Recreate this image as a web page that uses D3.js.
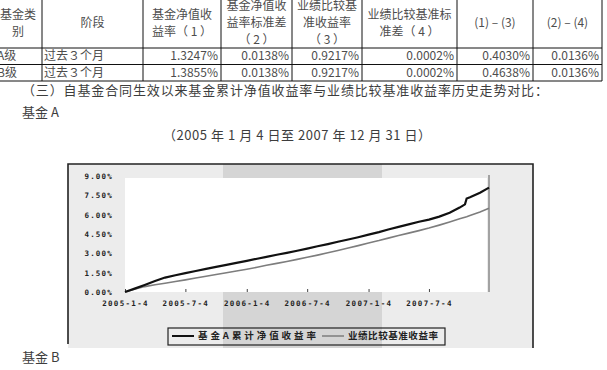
<!DOCTYPE html>
<html>
<head>
<meta charset="utf-8">
<script src="https://cdn.jsdelivr.net/npm/d3@7"></script>
<style>
  body { margin: 0; background: #fff; }
  svg { display: block; font-family: "Noto Sans CJK SC", "Noto Sans", sans-serif; }
</style>
</head>
<body>
<svg id="chart" width="607" height="370"></svg>
<script>
// table
const headers = [["基金类", "别"], ["阶段"], ["基金净值收", "益率（ 1 ）"], ["基金净值收", "益率标准差", "（ 2 ）"],
  ["业绩比较基", "准收益率", "（ 3 ）"], ["业绩比较基准标", "准差（ 4 ）"], ["(1) – (3)"], ["(2) – (4)"]]
const fundClass = ["A级", "B级"]
const period = ["过去３个月", "过去３个月"]
const navReturn = ["1.3247%", "1.3855%"]
const navStd = ["0.0138%", "0.0138%"]
const benchReturn = ["0.9217%", "0.9217%"]
const benchStd = ["0.0002%", "0.0002%"]
const diffReturn = ["0.4030%", "0.4638%"]
const diffStd = ["0.0136%", "0.0136%"]

// chart
const dates = ["2005-01-04", "2005-02-04", "2005-03-04", "2005-04-04", "2005-05-04", "2005-06-04",
  "2005-07-04", "2005-08-04", "2005-09-04", "2005-10-04", "2005-11-04", "2005-12-04",
  "2006-01-04", "2006-02-04", "2006-03-04", "2006-04-04", "2006-05-04", "2006-06-04",
  "2006-07-04", "2006-08-04", "2006-09-04", "2006-10-04", "2006-11-04", "2006-12-04",
  "2007-01-04", "2007-02-04", "2007-03-04", "2007-04-04", "2007-05-04", "2007-06-04",
  "2007-07-04", "2007-08-04", "2007-09-04", "2007-10-04", "2007-10-20", "2007-10-25",
  "2007-11-04", "2007-12-04", "2007-12-31"]
const fundA = [0.00, 0.28, 0.55, 0.85, 1.12, 1.30, 1.47, 1.63, 1.79, 1.95, 2.10, 2.26,
  2.42, 2.58, 2.73, 2.89, 3.04, 3.20, 3.37, 3.55, 3.72, 3.90, 4.07, 4.25,
  4.45, 4.65, 4.85, 5.05, 5.25, 5.45, 5.62, 5.85, 6.15, 6.55, 6.80, 7.25,
  7.35, 7.70, 8.10]
const benchmark = [0.00, 0.24, 0.42, 0.56, 0.68, 0.81, 0.94, 1.08, 1.22, 1.36, 1.50, 1.63,
  1.77, 1.92, 2.07, 2.22, 2.37, 2.53, 2.69, 2.86, 3.04, 3.22, 3.41, 3.60,
  3.80, 3.99, 4.18, 4.38, 4.57, 4.76, 4.96, 5.19, 5.43, 5.68, 5.80, 5.84,
  5.93, 6.20, 6.50]
const yTicks = [0, 1.5, 3, 4.5, 6, 7.5, 9]
const xTicks = ["2005-1-4", "2005-7-4", "2006-1-4", "2006-7-4", "2007-1-4", "2007-7-4"]
const legendNames = ["基金A累计净值收益率", "业绩比较基准收益率"]

const svg = d3.select('#chart')
svg.append('rect').attr('width', 607).attr('height', 370).attr('fill', '#fff')

// ---------- table ----------
const colX = [-6, 42, 143, 221, 292, 362, 457, 533, 602]
const rowY = [-2, 48, 64.5, 81]
const tbl = svg.append('g').attr('fill', '#4d4d4d').attr('font-size', 12)

headers.forEach((lines, i) => {
  const cx = (colX[i] + colX[i + 1]) / 2
  const cy = 23
  const lh = 16.8
  lines.forEach((t, j) => {
    tbl.append('text')
      .attr('x', cx)
      .attr('y', cy + (j - (lines.length - 1) / 2) * lh)
      .attr('dy', '0.35em')
      .attr('text-anchor', 'middle')
      .text(t)
  })
})

const cols = [fundClass, period, navReturn, navStd, benchReturn, benchStd, diffReturn, diffStd]
for (let r = 0; r < 2; r++) {
  const cy = (rowY[r + 1] + rowY[r + 2]) / 2
  cols.forEach((col, i) => {
    const left = i < 2
    tbl.append('text')
      .attr('x', left ? colX[i] + (i === 0 ? 3 : 2) : colX[i + 1] - 3)
      .attr('y', cy)
      .attr('dy', '0.35em')
      .attr('text-anchor', left ? 'start' : 'end')
      .attr('font-size', 12)
      .text(col[r])
  })
}

const grid = svg.append('g').attr('stroke', '#111').attr('stroke-width', 1)
colX.forEach(x => grid.append('line').attr('x1', x).attr('x2', x).attr('y1', rowY[0]).attr('y2', rowY[3]))
rowY.forEach(y => grid.append('line').attr('x1', colX[0]).attr('x2', colX[8]).attr('y1', y).attr('y2', y))

// ---------- text lines ----------
svg.append('text').attr('x', 22).attr('y', 90).attr('dy', '0.35em')
  .attr('font-size', 13).attr('fill', '#3d3d3d')
  .attr('textLength', 526).attr('lengthAdjust', 'spacing')
  .text('（三）自基金合同生效以来基金累计净值收益率与业绩比较基准收益率历史走势对比：')
svg.append('text').attr('x', 22).attr('y', 112).attr('dy', '0.35em')
  .attr('font-size', 13).attr('fill', '#3d3d3d').text('基金 A')
svg.append('text').attr('x', 163).attr('y', 135).attr('dy', '0.35em')
  .attr('font-size', 13).attr('fill', '#3d3d3d')
  .attr('textLength', 268).attr('lengthAdjust', 'spacing')
  .text('（2005 年 1 月 4 日至 2007 年 12 月 31 日）')
svg.append('text').attr('x', 22).attr('y', 357).attr('dy', '0.35em')
  .attr('font-size', 13).attr('fill', '#3d3d3d').text('基金 B')

// ---------- chart ----------
const box = { x: 68, y: 164, w: 465, h: 184 }
svg.append('rect').attr('x', box.x).attr('y', box.y).attr('width', box.w).attr('height', box.h).attr('fill', '#ececec')
svg.append('rect').attr('x', 223).attr('y', box.y).attr('width', 159).attr('height', box.h).attr('fill', '#d5d5d5')
svg.append('path')
  .attr('d', `M${box.x},${box.y + 180}V${box.y}H${box.x + box.w}V${box.y + box.h}`)
  .attr('fill', 'none').attr('stroke', '#222').attr('stroke-width', 1.6)

const parse = d3.timeParse('%Y-%m-%d')
const x = d3.scaleTime().domain([parse('2005-01-04'), parse('2007-12-31')]).range([125, 489])
const y = d3.scaleLinear().domain([0, 9]).range([292, 176])

svg.append('rect').attr('x', 125).attr('y', 178).attr('width', 362).attr('height', 114).attr('fill', '#fff')

const yAxis = d3.axisLeft(y).tickValues(yTicks).tickSize(0).tickPadding(12)
  .tickFormat(d => d3.format('.2f')(d) + '%')
const gy = svg.append('g').attr('transform', 'translate(125,0)').call(yAxis)
gy.select('.domain').remove()
gy.selectAll('text').attr('font-family', 'DejaVu Sans Mono').attr('font-weight', 'bold')
  .attr('font-size', 7.5).attr('fill', '#222').attr('letter-spacing', 1.2)

const tParse = d3.timeParse('%Y-%-m-%-d')
const xAxis = d3.axisBottom(x).tickValues(xTicks.map(tParse)).tickSizeInner(-3).tickSizeOuter(0)
  .tickPadding(9).tickFormat(d3.timeFormat('%Y-%-m-%-d'))
const gx = svg.append('g').attr('transform', 'translate(0,292)').call(xAxis)
gx.select('.domain').remove()
gx.selectAll('line').attr('stroke', '#444')
gx.selectAll('text').attr('font-family', 'DejaVu Sans Mono').attr('font-weight', 'bold')
  .attr('font-size', 7.5).attr('fill', '#222').attr('letter-spacing', 1.3)

// right end marker line
svg.append('line').attr('x1', x(parse('2007-12-31'))).attr('x2', x(parse('2007-12-31')))
  .attr('y1', 175).attr('y2', 292).attr('stroke', '#8a8a8a').attr('stroke-width', 1.5)

const line = d3.line().x(d => x(d[0])).y(d => y(d[1]))
const dd = dates.map(parse)
svg.append('path').datum(dd.map((d, i) => [d, benchmark[i]]))
  .attr('d', line).attr('fill', 'none').attr('stroke', '#7d7d7d').attr('stroke-width', 1.6)
svg.append('path').datum(dd.map((d, i) => [d, fundA[i]]))
  .attr('d', line).attr('fill', 'none').attr('stroke', '#111').attr('stroke-width', 2.2)

// legend
const lg = svg.append('g')
lg.append('rect').attr('x', 168).attr('y', 328).attr('width', 277).attr('height', 17)
  .attr('fill', 'none').attr('stroke', '#222').attr('stroke-width', 1.2)
const legendX = [172, 322]
const legendW = [118, 90]
const legendColor = ['#111', '#7d7d7d']
legendNames.forEach((n, i) => {
  lg.append('line').attr('x1', legendX[i]).attr('x2', legendX[i] + 22).attr('y1', 336).attr('y2', 336)
    .attr('stroke', legendColor[i]).attr('stroke-width', i === 0 ? 2 : 1.5)
  lg.append('text').attr('x', legendX[i] + 26).attr('y', 336).attr('dy', '0.35em')
    .attr('font-size', 9.5).attr('font-weight', 'bold').attr('fill', '#222')
    .attr('textLength', legendW[i]).attr('lengthAdjust', 'spacing').text(n)
})
</script>
</body>
</html>
